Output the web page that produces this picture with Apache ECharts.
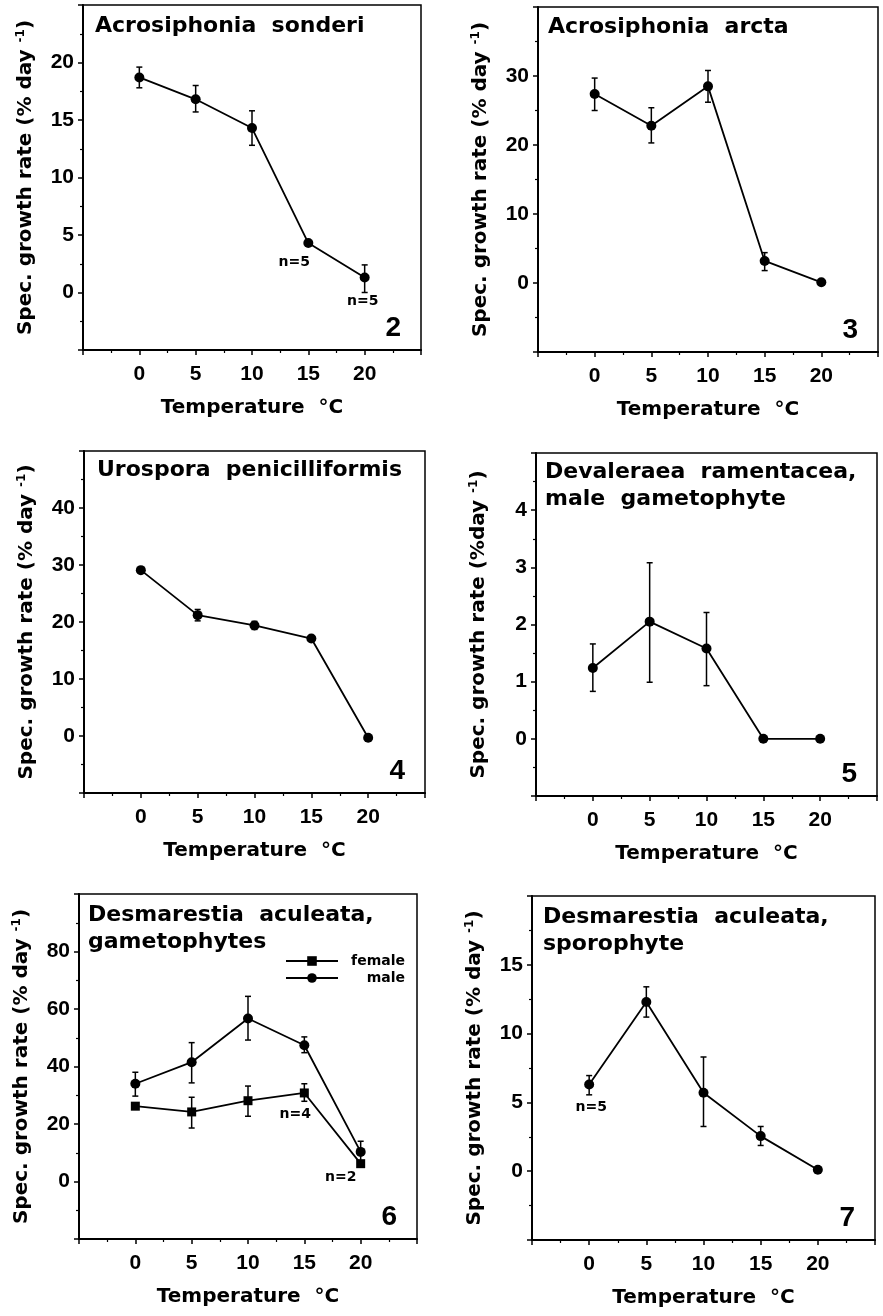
<!DOCTYPE html>
<html>
<head>
<meta charset="utf-8">
<script src="https://cdn.jsdelivr.net/npm/echarts@6/dist/echarts.min.js"></script>
<style>
html, body { margin: 0; padding: 0; background: #fff; }
#chart { width: 883px; height: 1316px; }
</style>
</head>
<body>
<div id="chart"></div>
<script>
const temps = [0, 5, 10, 15, 20];

// Fig. 2  Acrosiphonia sonderi
const sonderiMean = [18.7, 16.8, 14.3, 4.3, 1.3];
const sonderiLow = [17.8, 15.7, 12.8, null, 0.0];
const sonderiHigh = [19.6, 18.0, 15.8, null, 2.4];
const sonderiNotes = ['', '', '', 'n=5', 'n=5'];
const sonderiY = [-5, 25, 5];

// Fig. 3  Acrosiphonia arcta
const arctaMean = [27.4, 22.8, 28.5, 3.2, 0.1];
const arctaLow = [25.0, 20.3, 26.2, 1.8, null];
const arctaHigh = [29.7, 25.4, 30.8, 4.4, null];
const arctaY = [-10, 40, 10];

// Fig. 4  Urospora penicilliformis
const urosporaMean = [29.1, 21.2, 19.4, 17.1, -0.3];
const urosporaLow = [null, 20.2, 18.7, null, null];
const urosporaHigh = [null, 22.2, 20.1, null, null];
const urosporaY = [-10, 50, 10];

// Fig. 5  Devaleraea ramentacea, male gametophyte
const devaleraeaMean = [1.24, 2.05, 1.58, 0, 0];
const devaleraeaLow = [0.83, 0.99, 0.93, null, null];
const devaleraeaHigh = [1.66, 3.08, 2.21, null, null];
const devaleraeaY = [-1, 5, 1];

// Fig. 6  Desmarestia aculeata, gametophytes
const femaleMean = [26.2, 24.2, 28.1, 30.8, 6.2];
const femaleLow = [null, 18.6, 22.7, 27.9, null];
const femaleHigh = [null, 29.3, 33.2, 34.0, null];
const femaleNotes = ['', '', '', 'n=4', 'n=2'];
const maleMean = [34.0, 41.5, 56.7, 47.4, 10.3];
const maleLow = [29.7, 34.3, 49.2, 44.8, 7.0];
const maleHigh = [38.0, 48.3, 64.4, 50.3, 14.0];
const gametoY = [-20, 100, 20];

// Fig. 7  Desmarestia aculeata, sporophyte
const sporoMean = [6.3, 12.3, 5.7, 2.55, 0.1];
const sporoLow = [5.55, 11.2, 3.25, 1.87, null];
const sporoHigh = [6.95, 13.4, 8.3, 3.25, null];
const sporoNotes = ['n=5', '', '', '', ''];
const sporoY = [-5, 20, 5];

const xRange = [-5, 25, 5];

const TXT = 'DejaVu Sans';
const NUM = 'Liberation Sans';

const panels = [
  { box: [83, 5, 338, 345], y: sonderiY, num: '2', title: 'Acrosiphonia  sonderi', tpos: [95, 13], pct: '% day ' },
  { box: [538, 7, 340, 345], y: arctaY, num: '3', title: 'Acrosiphonia  arcta', tpos: [548, 14], pct: '% day ' },
  { box: [84, 451, 341, 342], y: urosporaY, num: '4', title: 'Urospora  penicilliformis', tpos: [97, 457], pct: '% day ' },
  { box: [536, 453, 341, 343], y: devaleraeaY, num: '5', title: 'Devaleraea  ramentacea,\nmale  gametophyte', tpos: [545, 459], pct: '%day ' },
  { box: [79, 894, 338, 345], y: gametoY, num: '6', title: 'Desmarestia  aculeata,\ngametophytes', tpos: [88, 902], pct: '% day ' },
  { box: [532, 896, 343, 344], y: sporoY, num: '7', title: 'Desmarestia  aculeata,\nsporophyte', tpos: [543, 904], pct: '% day ' }
];

function errRender(params, api) {
  const x = api.value(0);
  const lo = api.coord([x, api.value(1)]);
  const hi = api.coord([x, api.value(2)]);
  const w = 3;
  const st = { stroke: '#000', lineWidth: 1.5 };
  return {
    type: 'group',
    children: [
      { type: 'line', shape: { x1: lo[0], y1: lo[1], x2: hi[0], y2: hi[1] }, style: st },
      { type: 'line', shape: { x1: lo[0] - w, y1: lo[1], x2: lo[0] + w, y2: lo[1] }, style: st },
      { type: 'line', shape: { x1: hi[0] - w, y1: hi[1], x2: hi[0] + w, y2: hi[1] }, style: st }
    ]
  };
}

function errSeries(idx, low, high) {
  const data = [];
  temps.forEach((t, i) => {
    if (low[i] != null) data.push([t, low[i], high[i]]);
  });
  return {
    type: 'custom', xAxisIndex: idx, yAxisIndex: idx, data: data,
    renderItem: errRender, encode: { x: 0, y: [1, 2] }, silent: true, z: 2
  };
}

function lineSeries(idx, name, mean, notes, offsets, symbol, size) {
  return {
    type: 'line', name: name, xAxisIndex: idx, yAxisIndex: idx,
    data: temps.map((t, i) => {
      const item = { value: [t, mean[i]] };
      if (notes && notes[i]) {
        item.label = {
          show: true, formatter: notes[i], position: 'inside', offset: offsets[i],
          color: '#000', fontFamily: TXT, fontWeight: 'bold', fontSize: 14, textBorderWidth: 0
        };
      }
      return item;
    }),
    symbol: symbol, symbolSize: size, showSymbol: true,
    lineStyle: { color: '#000', width: 1.8 },
    itemStyle: { color: '#000' },
    emphasis: { disabled: true },
    silent: true, z: 3
  };
}

const series = [
  errSeries(0, sonderiLow, sonderiHigh),
  lineSeries(0, 'sonderi', sonderiMean, sonderiNotes, [null, null, null, [-14, 19], [-2, 24]], 'circle', 10),
  errSeries(1, arctaLow, arctaHigh),
  lineSeries(1, 'arcta', arctaMean, null, null, 'circle', 10),
  errSeries(2, urosporaLow, urosporaHigh),
  lineSeries(2, 'urospora', urosporaMean, null, null, 'circle', 10),
  errSeries(3, devaleraeaLow, devaleraeaHigh),
  lineSeries(3, 'devaleraea', devaleraeaMean, null, null, 'circle', 10),
  errSeries(4, femaleLow, femaleHigh),
  errSeries(4, maleLow, maleHigh),
  lineSeries(4, 'female', femaleMean, femaleNotes, [null, null, null, [-9, 21], [-20, 14]], 'rect', 9),
  lineSeries(4, 'male', maleMean, null, null, 'circle', 10),
  errSeries(5, sporoLow, sporoHigh),
  lineSeries(5, 'sporophyte', sporoMean, sporoNotes, [[2, 23], null, null, null, null], 'circle', 10)
];

const axisLine = { show: true, onZero: false, lineStyle: { color: '#000', width: 2 } };
const axisTick = { show: true, inside: false, length: 5, lineStyle: { color: '#000', width: 1.5 } };
const minorTick = { show: true, splitNumber: 2, length: 3, lineStyle: { color: '#000', width: 1.2 } };
const tickFont = { color: '#000', fontFamily: NUM, fontWeight: 'bold', fontSize: 21 };

const option = {
  animation: false,
  backgroundColor: '#fff',
  title: panels.map(p => ({
    text: p.title, left: p.tpos[0], top: p.tpos[1], padding: 0,
    textStyle: { fontFamily: TXT, fontWeight: 'bold', fontSize: 22, color: '#000', lineHeight: 27 }
  })),
  legend: {
    data: ['female', 'male'], left: 285, top: 954, orient: 'vertical',
    itemWidth: 52, itemHeight: 12, itemGap: 3, padding: 0,
    formatter: name => '{r|' + name + '}',
    textStyle: {
      rich: { r: { width: 62, align: 'right', fontFamily: TXT, fontWeight: 'bold', fontSize: 14, color: '#000' } }
    }
  },
  grid: panels.map(p => ({
    left: p.box[0], top: p.box[1], width: p.box[2], height: p.box[3],
    show: true, borderColor: '#000', borderWidth: 1.5, backgroundColor: 'transparent',
    containLabel: false, outerBoundsMode: 'none'
  })),
  xAxis: panels.map((p, i) => ({
    gridIndex: i, type: 'value', min: xRange[0], max: xRange[1], interval: xRange[2],
    axisLine: axisLine, axisTick: axisTick, minorTick: minorTick, splitLine: { show: false },
    axisLabel: Object.assign({ showMinLabel: false, showMaxLabel: false, margin: 14 }, tickFont),
    name: 'Temperature  °C', nameLocation: 'middle', nameGap: 48,
    nameTextStyle: { fontFamily: TXT, fontWeight: 'bold', fontSize: 20, color: '#000' }
  })),
  yAxis: panels.map((p, i) => ({
    gridIndex: i, type: 'value', min: p.y[0], max: p.y[1], interval: p.y[2],
    axisLine: axisLine, axisTick: axisTick, minorTick: minorTick, splitLine: { show: false },
    axisLabel: Object.assign({ showMinLabel: false, showMaxLabel: false, margin: 9 }, tickFont),
    name: '{a|Spec. growth rate (' + p.pct + '}{s|-1}{a|)}', nameLocation: 'middle', nameGap: 46,
    nameTextStyle: {
      rich: {
        a: { fontFamily: TXT, fontWeight: 'bold', fontSize: 20, color: '#000', lineHeight: 22 },
        s: { fontFamily: TXT, fontWeight: 'bold', fontSize: 12, color: '#000', lineHeight: 22, verticalAlign: 'top' }
      }
    }
  })),
  graphic: panels.map(p => ({
    type: 'text', x: p.box[0] + p.box[2] - 20, y: p.box[1] + p.box[3] - 22, silent: true,
    style: { text: p.num, fontFamily: NUM, fontWeight: 'bold', fontSize: 28, fill: '#000', align: 'right', verticalAlign: 'middle' }
  })),
  series: series
};

const chart = echarts.init(document.getElementById('chart'), null, { renderer: 'canvas' });
chart.setOption(option);
window.addEventListener('resize', function () {
  chart && chart.resize();
});
</script>
</body>
</html>
